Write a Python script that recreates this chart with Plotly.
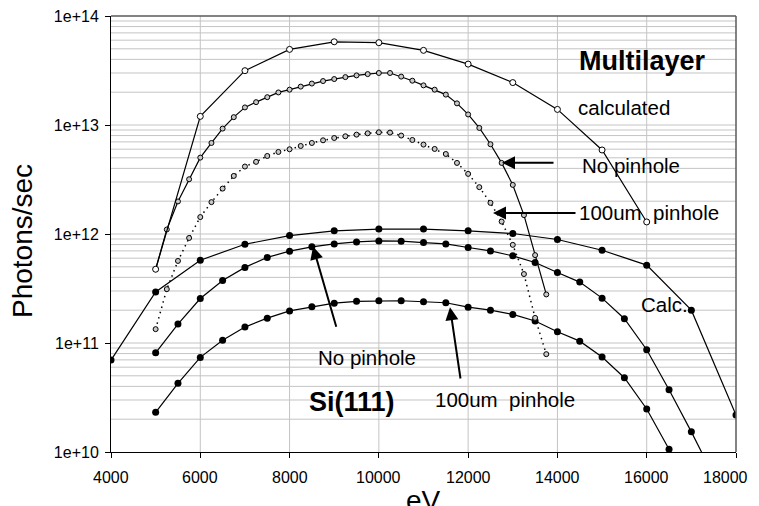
import math
import plotly.graph_objects as go

# ---------------- data ----------------
ml_calc_ev = [5000, 6000, 7000, 8000, 9000, 10000, 11000, 12000, 13000, 14000, 15000, 16000]
ml_calc = [4.75e11, 1.2e13, 3.15e13, 4.94e13, 5.8e13, 5.69e13, 4.84e13, 3.62e13,
           2.45e13, 1.39e13, 5.9e12, 1.29e12]

ml_meas_ev = [5000, 5250, 5500, 5750, 6000, 6250, 6500, 6750, 7000, 7250, 7500, 7750,
              8000, 8250, 8500, 8750, 9000, 9250, 9500, 9750, 10000, 10250, 10500, 10750,
              11000, 11250, 11500, 11750, 12000, 12250, 12500, 12750, 13000, 13250, 13500, 13750]
ml_nopin = [4.75e11, 1.10e12, 1.99e12, 3.18e12, 5.02e12, 6.84e12, 9.27e12, 1.18e13,
            1.45e13, 1.62e13, 1.80e13, 1.99e13, 2.11e13, 2.25e13, 2.40e13, 2.53e13,
            2.64e13, 2.75e13, 2.85e13, 2.93e13, 3.00e13, 3.00e13, 2.78e13, 2.55e13,
            2.31e13, 2.11e13, 1.90e13, 1.58e13, 1.25e13, 9.4e12, 6.66e12, 4.49e12,
            2.82e12, 1.49e12, 6.4e11, 2.79e11]
ml_pin100 = [1.34e11, 3.12e11, 5.66e11, 9.2e11, 1.43e12, 1.96e12, 2.61e12, 3.41e12,
             4.16e12, 4.59e12, 5.2e12, 5.66e12, 5.99e12, 6.42e12, 6.84e12, 7.24e12,
             7.6e12, 7.88e12, 8.16e12, 8.39e12, 8.57e12, 8.52e12, 8.0e12, 7.29e12,
             6.61e12, 6.03e12, 5.42e12, 4.49e12, 3.56e12, 2.69e12, 1.93e12, 1.30e12,
             7.95e11, 4.29e11, 1.7e11, 7.9e10]

si_calc_ev = [4000, 5000, 6000, 7000, 8000, 9000, 10000, 11000, 12000, 13000, 14000,
              15000, 16000, 17000, 18000]
si_calc = [6.97e10, 2.94e11, 5.75e11, 8.05e11, 9.68e11, 1.07e12, 1.11e12, 1.11e12,
           1.07e12, 1.01e12, 8.9e11, 7.1e11, 5.18e11, 2.0e11, 2.18e10]

si_nopin_ev = [5000, 5500, 6000, 6500, 7000, 7500, 8000, 8500, 9000, 9500, 10000, 10500,
               11000, 11500, 12000, 12500, 13000, 13500, 14000, 14500, 15000, 15500,
               16000, 16500, 17000, 17500]
si_nopin = [8.13e10, 1.49e11, 2.56e11, 3.75e11, 4.94e11, 6.1e11, 6.96e11, 7.62e11,
            8.11e11, 8.46e11, 8.64e11, 8.59e11, 8.35e11, 8.11e11, 7.52e11, 7.0e11,
            6.3e11, 5.48e11, 4.44e11, 3.62e11, 2.58e11, 1.67e11, 8.67e10, 3.72e10,
            1.53e10, 6.0e9]

si_pin100_ev = [5000, 5500, 6000, 6500, 7000, 7500, 8000, 8500, 9000, 9500, 10000, 10500,
                11000, 11500, 12000, 12500, 13000, 13500, 14000, 14500, 15000, 15500,
                16000, 16500]
si_pin100 = [2.31e10, 4.27e10, 7.38e10, 1.06e11, 1.40e11, 1.69e11, 1.97e11, 2.15e11,
             2.32e11, 2.41e11, 2.44e11, 2.44e11, 2.39e11, 2.34e11, 2.13e11, 2.0e11,
             1.83e11, 1.59e11, 1.27e11, 1.04e11, 7.43e10, 4.8e10, 2.48e10, 1.06e10]

y_tick_vals = [1e10, 1e11, 1e12, 1e13, 1e14]
y_tick_text = ["1e+10", "1e+11", "1e+12", "1e+13", "1e+14"]
x_tick_vals = [4000, 6000, 8000, 10000, 12000, 14000, 16000, 18000]
x_tick_text = ["4000", "6000", "8000", "10000", "12000", "14000", "16000", "18000"]

# ---------------- figure ----------------
FONT = "Liberation Sans, Arial, sans-serif"
OFF = 8                      # default page body margin
VIS_RIGHT = 750              # right edge of the visible page area
W, H = 759 - OFF, 506 - OFF
L, R, T, B = 111 - OFF, 23, 16 - OFF, 54
PW, PH = W - L - R, H - T - B
YMIN, YMAX = 10, 14
XMIN, XMAX = 4000, 18000


def px(xp, yp):
    """page pixel -> paper coords"""
    return (xp - OFF - L) / PW, (H - B - (yp - OFF)) / PH


fig = go.Figure()

dot = dict(symbol="circle", size=7, color="black")
fig.add_trace(go.Scatter(x=si_calc_ev, y=si_calc, mode="lines+markers",
                         line=dict(color="black", width=1.2), marker=dot))
fig.add_trace(go.Scatter(x=si_nopin_ev, y=si_nopin, mode="lines+markers",
                         line=dict(color="black", width=1.2), marker=dot))
fig.add_trace(go.Scatter(x=si_pin100_ev, y=si_pin100, mode="lines+markers",
                         line=dict(color="black", width=1.2), marker=dot))

small = dict(symbol="circle", size=5, color="#c8c8c8", line=dict(color="black", width=1))
fig.add_trace(go.Scatter(x=ml_meas_ev, y=ml_pin100, mode="lines+markers",
                         line=dict(color="black", width=1.5, dash="1.5px,4px"), marker=small))
fig.add_trace(go.Scatter(x=ml_meas_ev, y=ml_nopin, mode="lines+markers",
                         line=dict(color="black", width=1.2), marker=small))
fig.add_trace(go.Scatter(x=ml_calc_ev, y=ml_calc, mode="lines+markers",
                         line=dict(color="black", width=1.2),
                         marker=dict(symbol="circle", size=6, color="white",
                                     line=dict(color="black", width=1))))

grid = "#c4c4c4"

fig.update_xaxes(range=[XMIN, XMAX], tickvals=x_tick_vals, showticklabels=False,
                 showgrid=False, showline=True, linecolor="black", linewidth=1,
                 ticks="outside", ticklen=5, tickcolor="black", zeroline=False)
fig.update_yaxes(type="log", range=[YMIN, YMAX], tickvals=y_tick_vals, ticktext=y_tick_text,
                 showgrid=False, showline=True, linecolor="black", linewidth=1,
                 ticks="outside", ticklen=5, tickcolor="black", zeroline=False,
                 ticklabeloverflow="allow", ticklabelstandoff=3,
                 tickfont=dict(family=FONT, size=16, color="black"))

shapes = []
# gridlines
for xv in x_tick_vals[1:-1]:
    shapes.append(dict(type="line", xref="x", yref="paper", x0=xv, x1=xv, y0=0, y1=1,
                       line=dict(color=grid, width=1), layer="below"))
for e in range(YMIN, YMAX):
    for m in range(1, 10):
        if e == YMIN and m == 1:
            continue
        fy = (math.log10(m) + e - YMIN) / (YMAX - YMIN)
        shapes.append(dict(type="line", xref="paper", yref="paper", x0=0, x1=1, y0=fy, y1=fy,
                           line=dict(color=grid, width=1), layer="below"))
# frame top / right
shapes += [
    dict(type="line", xref="paper", yref="paper", x0=0, x1=1, y0=1, y1=1,
         line=dict(color="#5a5a5a", width=1.5), layer="above"),
    dict(type="line", xref="paper", yref="paper", x0=1, x1=1, y0=0, y1=1,
         line=dict(color="#5a5a5a", width=1.5), layer="above"),
]

ann = []


def text(s, xp, yp, size, bold=False, xanchor="left", angle=0):
    x, y = px(xp, yp)
    ann.append(dict(text=("<b>%s</b>" % s) if bold else s, x=x, y=y, xref="paper",
                    yref="paper", xanchor=xanchor, yanchor="middle", showarrow=False,
                    textangle=angle, font=dict(family=FONT, size=size, color="black")))


def arrow(tipx, tipy, tailx, taily):
    x, y = px(tipx, tipy)
    ann.append(dict(text="", x=x, y=y, xref="paper", yref="paper", showarrow=True,
                    ax=tailx - tipx, ay=taily - tipy, arrowhead=2, arrowsize=1.3,
                    arrowwidth=2, arrowcolor="black", standoff=0))


# x tick labels (placed as annotations so the last one stays inside the visible page)
_, y_lab = px(0, 477)
for xv, xt in zip(x_tick_vals, x_tick_text):
    fx = (xv - XMIN) / (XMAX - XMIN)
    half = 0.28 * 16 * len(xt)
    x_page = OFF + L + fx * PW
    if x_page + half > VIS_RIGHT:
        ann.append(dict(text=xt, x=px(VIS_RIGHT, 0)[0], y=y_lab, xref="paper", yref="paper",
                        xanchor="right", yanchor="middle", showarrow=False,
                        font=dict(family=FONT, size=16, color="black")))
    else:
        ann.append(dict(text=xt, x=fx, y=y_lab, xref="paper", yref="paper",
                        xanchor="center", yanchor="middle", showarrow=False,
                        font=dict(family=FONT, size=16, color="black")))

text("Multilayer", 577, 61, 27, bold=True)
text("calculated", 576, 108, 20.5)
text("No pinhole", 580, 165, 20.5)
text("100um&nbsp; pinhole", 577, 212, 20.5)
text("No pinhole", 367, 357, 20.5, xanchor="center")
text("Si(111)", 307, 402, 27, bold=True)
text("100um&nbsp; pinhole", 433, 399, 20.5)
text("Calc.", 639, 304, 20.5)
text("Photons/sec", 23, 241, 28, xanchor="center", angle=-90)
text("eV", 423.5, 500, 28, xanchor="center")

arrow(502, 162.7, 555, 162.7)
arrow(493, 213, 577, 213)
arrow(313, 246.5, 336.7, 328.3)
arrow(450, 307.3, 460.7, 380)

fig.update_layout(width=W, height=H, margin=dict(l=L, r=R, t=T, b=B, autoexpand=False),
                  paper_bgcolor="white", plot_bgcolor="white", showlegend=False,
                  shapes=shapes, annotations=ann,
                  font=dict(family=FONT, color="black"))

fig.write_html("out.html")
